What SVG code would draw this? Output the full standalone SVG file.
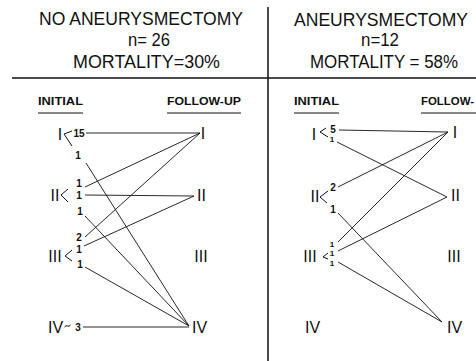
<svg xmlns="http://www.w3.org/2000/svg" width="476" height="361" viewBox="0 0 476 361">
<style>
text{font-family:"Liberation Sans",Arial,sans-serif;fill:#111}
.t{font-size:17.5px}
.h{font-size:11px;font-weight:bold}
.r{font-size:16px;text-anchor:middle}
.n{font-size:10px;font-weight:bold;text-anchor:middle}
.s{font-size:8px;font-weight:bold;text-anchor:middle}
.c{stroke:#111;stroke-width:0.9;fill:none}
.k{stroke:#111;stroke-width:1;fill:none}
.rule{stroke:#111;stroke-width:1.5}
</style>
<rect width="476" height="361" fill="#fff"/>
<g id="headers">
<text class="t" x="39" y="25" textLength="204" lengthAdjust="spacingAndGlyphs">NO ANEURYSMECTOMY</text>
<text class="t" x="128" y="46" textLength="42" lengthAdjust="spacingAndGlyphs">n= 26</text>
<text class="t" x="73" y="68" textLength="147" lengthAdjust="spacingAndGlyphs">MORTALITY=30%</text>
<text class="t" x="294" y="26" textLength="174" lengthAdjust="spacingAndGlyphs">ANEURYSMECTOMY</text>
<text class="t" x="361" y="46" textLength="38" lengthAdjust="spacingAndGlyphs">n=12</text>
<text class="t" x="310" y="68" textLength="148" lengthAdjust="spacingAndGlyphs">MORTALITY = 58%</text>
<line class="rule" x1="12" y1="78" x2="476" y2="78"/>
<line class="rule" x1="268" y1="7" x2="268" y2="361"/>
<text class="h" x="38" y="105" textLength="45" lengthAdjust="spacingAndGlyphs">INITIAL</text>
<line class="k" x1="38" y1="113" x2="83" y2="113"/>
<text class="h" x="167" y="105" textLength="74" lengthAdjust="spacingAndGlyphs">FOLLOW-UP</text>
<line class="k" x1="167" y1="113" x2="241" y2="113"/>
<text class="h" x="294" y="105" textLength="45" lengthAdjust="spacingAndGlyphs">INITIAL</text>
<line class="k" x1="294" y1="113" x2="339" y2="113"/>
<text class="h" x="421" y="105" textLength="53" lengthAdjust="spacingAndGlyphs">FOLLOW-</text>
<line class="k" x1="421" y1="113" x2="476" y2="113"/>
</g>
<g id="connectors">
<line class="c" x1="86" y1="133" x2="200" y2="133"/>
<line class="c" x1="86" y1="163" x2="189" y2="326"/>
<line class="c" x1="85" y1="187" x2="200" y2="133"/>
<line class="c" x1="85" y1="195" x2="194" y2="196"/>
<line class="c" x1="85" y1="216" x2="189" y2="326"/>
<line class="c" x1="85" y1="237" x2="200" y2="133"/>
<line class="c" x1="84" y1="246" x2="194" y2="196"/>
<line class="c" x1="85" y1="267" x2="189" y2="326"/>
<line class="c" x1="83" y1="327" x2="189" y2="327"/>
<line class="c" x1="339" y1="130" x2="448" y2="132"/>
<line class="c" x1="337" y1="142" x2="447" y2="197"/>
<line class="c" x1="338" y1="187" x2="448" y2="132"/>
<line class="c" x1="338" y1="213" x2="442" y2="322"/>
<line class="c" x1="338" y1="242" x2="448" y2="132"/>
<line class="c" x1="338" y1="251" x2="447" y2="197"/>
<line class="c" x1="338" y1="262" x2="442" y2="322"/>
</g>
<g id="left-initial-I">
<text class="r" x="60" y="140">I</text>
<polyline class="k" points="72,131 64,134 72,146"/>
<text class="n" x="79" y="136.5">15</text>
<text class="n" x="78" y="158.5">1</text>
</g>
<g id="left-initial-II">
<text class="r" x="55" y="201">II</text>
<polyline class="k" points="68,189 61,195 68,202"/>
<text class="n" x="79" y="186.5">1</text>
<text class="n" x="79" y="198.5">1</text>
<text class="n" x="80" y="214.5">1</text>
</g>
<g id="left-initial-III">
<text class="r" x="55" y="262">III</text>
<polyline class="k" points="72,250 65,256 72,261"/>
<text class="n" x="79" y="240.5">2</text>
<text class="n" x="79" y="252.5">1</text>
<text class="n" x="80" y="267.5">1</text>
</g>
<g id="left-initial-IV">
<text class="r" x="55.5" y="333">IV</text>
<path class="k" d="M64.5,327 q1.5,-2 3,-1 q1.5,1 3,-1"/>
<text class="n" x="78" y="330.5">3</text>
</g>
<g id="left-followup-I"><text class="r" x="203" y="139">I</text></g>
<g id="left-followup-II"><text class="r" x="201.5" y="201">II</text></g>
<g id="left-followup-III"><text class="r" x="201" y="262">III</text></g>
<g id="left-followup-IV"><text class="r" x="199.5" y="333">IV</text></g>
<g id="right-initial-I">
<text class="r" x="314" y="140">I</text>
<polyline class="k" points="326,128 320,132 328,137"/>
<text class="n" x="333" y="133">5</text>
<text class="s" x="332" y="142">1</text>
</g>
<g id="right-initial-II">
<text class="r" x="315" y="202">II</text>
<polyline class="k" points="328,191 320,197 327,203"/>
<text class="n" x="333" y="190.5">2</text>
<text class="n" x="333" y="212.5">1</text>
</g>
<g id="right-initial-III">
<text class="r" x="310" y="262">III</text>
<polyline class="k" points="328,253 323,257 328,259"/>
<text class="s" x="332" y="247">1</text>
<text class="s" x="332" y="256">1</text>
<text class="s" x="332" y="266">1</text>
</g>
<g id="right-initial-IV"><text class="r" x="312.5" y="333">IV</text></g>
<g id="right-followup-I"><text class="r" x="455" y="138">I</text></g>
<g id="right-followup-II"><text class="r" x="455.5" y="201">II</text></g>
<g id="right-followup-III"><text class="r" x="454" y="262">III</text></g>
<g id="right-followup-IV"><text class="r" x="454.5" y="333">IV</text></g>
</svg>
